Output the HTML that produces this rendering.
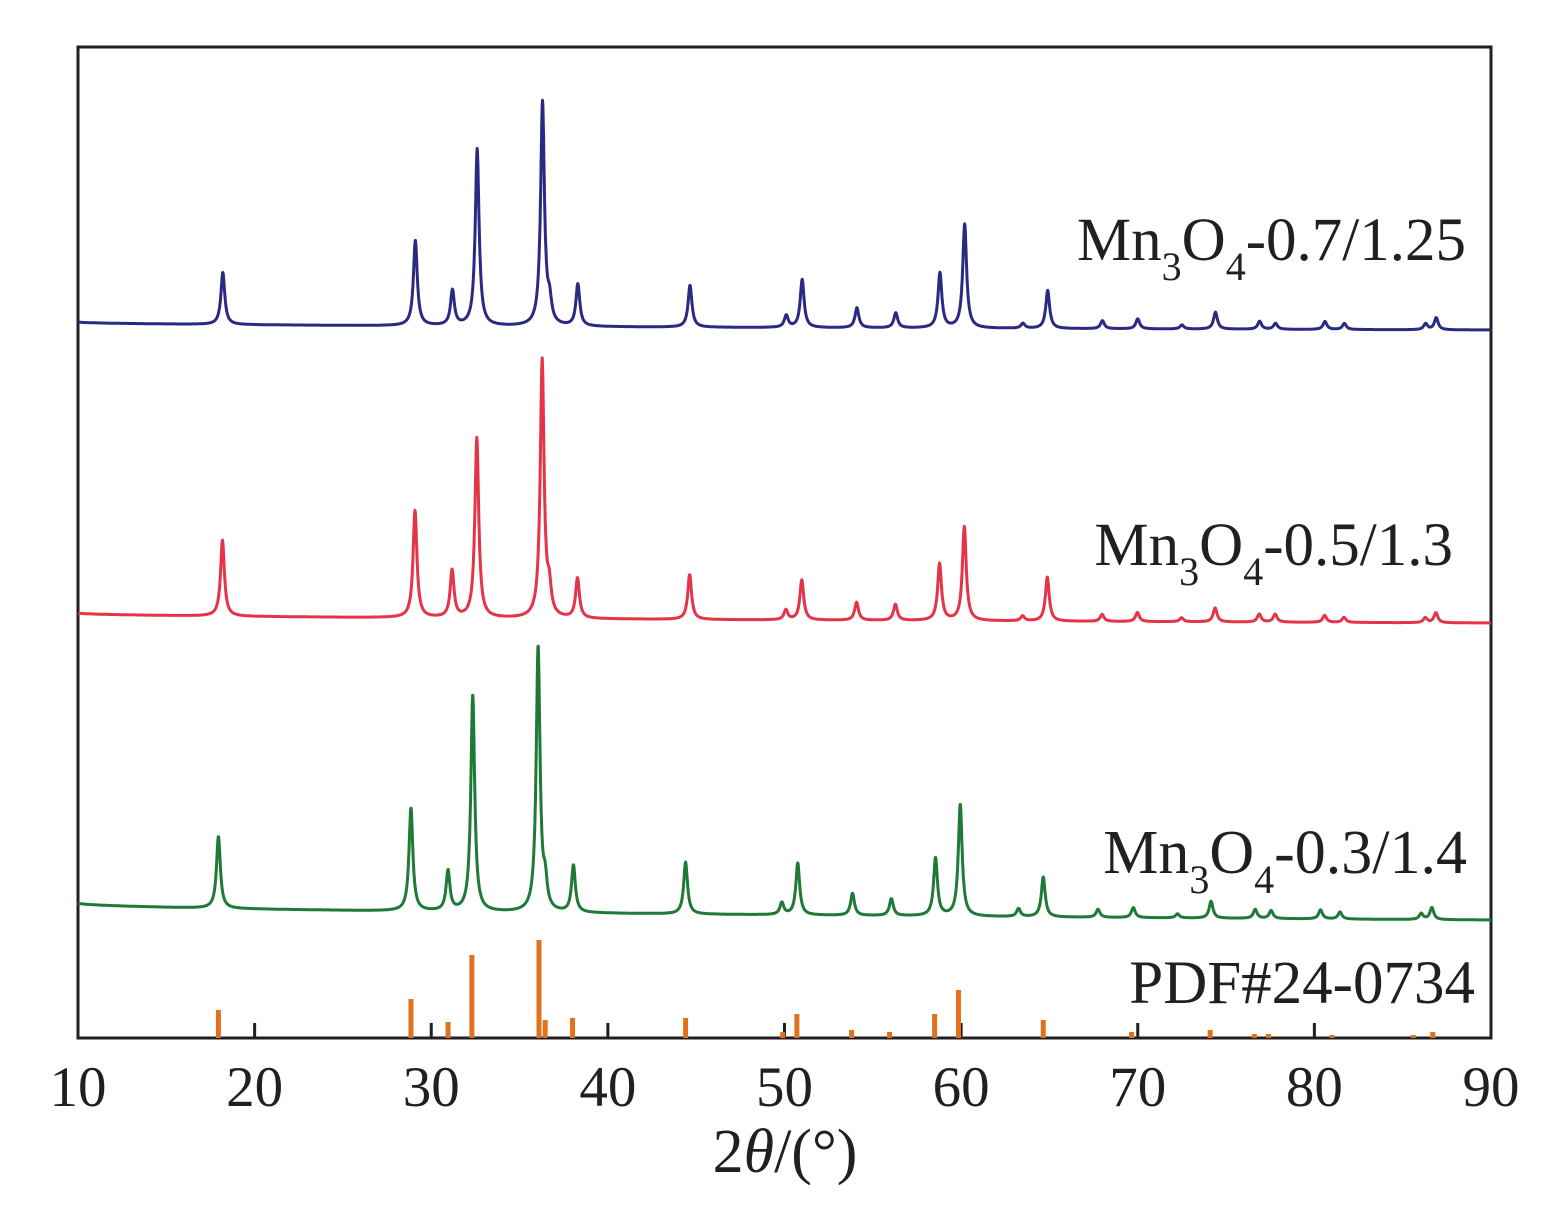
<!DOCTYPE html>
<html><head><meta charset="utf-8"><style>
body{margin:0;background:#fff;}
svg{display:block;font-family:"Liberation Serif",serif;}
</style></head><body>
<svg id="chart" width="1564" height="1214" viewBox="0 0 1564 1214">
<rect x="78" y="47" width="1413" height="991" fill="none" stroke="#231f20" stroke-width="3"/>
<g id="ticks"></g>
<g id="series"></g>
<text x="785" y="1172" font-size="62" text-anchor="middle" fill="#231f20">2<tspan font-style="italic">θ</tspan>/(°)</text>
<text x="1466" y="260" font-size="61" text-anchor="end" fill="#231f20">Mn<tspan font-size="40" dy="20">3</tspan><tspan dy="-20">O</tspan><tspan font-size="40" dy="20">4</tspan><tspan dy="-20">-0.7/1.25</tspan></text>
<text x="1453" y="565" font-size="61" text-anchor="end" fill="#231f20">Mn<tspan font-size="40" dy="20">3</tspan><tspan dy="-20">O</tspan><tspan font-size="40" dy="20">4</tspan><tspan dy="-20">-0.5/1.3</tspan></text>
<text x="1467" y="873" font-size="62" text-anchor="end" fill="#231f20">Mn<tspan font-size="40" dy="20">3</tspan><tspan dy="-20">O</tspan><tspan font-size="40" dy="20">4</tspan><tspan dy="-20">-0.3/1.4</tspan></text>
<text x="1475" y="1003" font-size="61" text-anchor="end" fill="#231f20">PDF#24-0734</text>
</svg>
<script>
const xTicks=[10,20,30,40,50,60,70,80,90];
const peakPos=[18.2,29.1,31.2,32.6,36.3,36.7,38.3,44.65,50.1,51.0,54.1,56.3,58.8,60.2,63.5,64.9,68.0,70.0,72.5,74.4,76.9,77.8,80.6,81.7,86.3,86.9];
const blueAmp=[52,85,35,177,224,20,42,42,12,48,20,15,55,104,5,38,8,10,4,17,8,6,8,6,6,12];
const redAmp=[76,107,47,180,258,25,40,45,10,40,18,16,57,94,5,44,7,9,4,14,8,8,7,5,5,10];
const greenAmp=[72,103,40,217,265,25,47,52,12,52,22,17,58,112,8,40,8,10,4,17,9,8,9,7,6,12];
const blueBase=[322,330];const redBase=[613,623];const greenBase=[903,920];
const blueShift=0,redShift=-0.02,greenShift=-0.25;
const pdfPos=[17.95,28.85,30.95,32.3,36.1,36.45,38.0,44.4,49.9,50.7,53.8,55.95,58.5,59.85,64.65,69.65,74.1,76.6,77.4,81.0,85.6,86.7];
const pdfAmp=[28,39,16,83,98,18,20,20,6,24,8,6,24,48,18,6,8,4,4,3,3,6];
const X0=78,X1=1491,D0=10,D1=90;
function xs(v){return X0+(v-D0)/(D1-D0)*(X1-X0);}
const NS="http://www.w3.org/2000/svg";
const tg=document.getElementById('ticks');
xTicks.forEach(t=>{
 const x=xs(t);
 if(t>10&&t<90){const l=document.createElementNS(NS,'line');
 l.setAttribute('x1',x);l.setAttribute('x2',x);l.setAttribute('y1',1038);l.setAttribute('y2',1023);
 l.setAttribute('stroke','#231f20');l.setAttribute('stroke-width','3');
 
 
 tg.appendChild(l);}
 const tx=document.createElementNS(NS,'text');
 tx.setAttribute('x',x);tx.setAttribute('y',1106);tx.setAttribute('font-size','57');tx.setAttribute('text-anchor','middle');tx.setAttribute('fill','#231f20');
 tx.textContent=t;
 
 
 tg.appendChild(tx);
});
const sg=document.getElementById('series');
function curve(amp,base,shift,color,name){
 let d='';const w=0.13;
 for(let a=D0;a<=D1+1e-9;a+=0.02){
  let y=base[0]+(base[1]-base[0])*Math.pow((a-D0)/(D1-D0),0.5);
  for(let i=0;i<peakPos.length;i++){const dx=(a-peakPos[i]-shift)/w;y-=amp[i]/(1+dx*dx);}
  d+=(d?'L':'M')+xs(a).toFixed(1)+' '+y.toFixed(1);
 }
 const p=document.createElementNS(NS,'path');
 p.setAttribute('d',d);p.setAttribute('fill','none');p.setAttribute('stroke',color);p.setAttribute('stroke-width','3');p.setAttribute('stroke-linejoin','round');
 
 
 sg.appendChild(p);
}
curve(blueAmp,blueBase,blueShift,'#2a2a85','xrd-0-7-line');
curve(redAmp,redBase,redShift,'#e53347','xrd-0-5-line');
curve(greenAmp,greenBase,greenShift,'#1e7a36','xrd-0-3-line');
pdfPos.forEach((p,i)=>{
 const r=document.createElementNS(NS,'rect');
 r.setAttribute('x',xs(p)-2.5);r.setAttribute('width',5);
 r.setAttribute('y',1038-pdfAmp[i]);r.setAttribute('height',pdfAmp[i]);
 r.setAttribute('fill','#e2711d');
 
 
 sg.appendChild(r);
});
</script>
</body></html>
